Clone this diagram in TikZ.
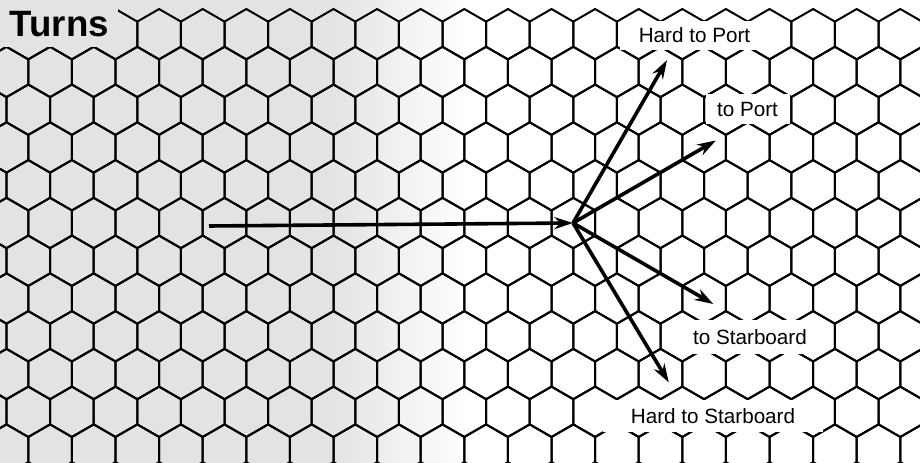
\documentclass[tikz,border=0pt]{standalone}
\usepackage{fontspec}
\setmainfont{Liberation Sans}
\usetikzlibrary{arrows.meta}
\tikzset{
  hexline/.style={line width=1.5pt,line join=round},
  turnarrow/.style={line width=2.7pt,-{Stealth[length=14pt,width=9pt]}},
  turnlabel/.style={fill=white,inner sep=0pt,font=\fontsize{15.5}{18}\selectfont}
}

\begin{document}
\begin{tikzpicture}[x=.75pt,y=.75pt]
\useasboundingbox (0,0) rectangle (920,463);
% shaded half of the map
\fill[black!11] (0,0) rectangle (330,463);
\shade[left color=black!11,right color=white] (330,0) rectangle (470,463);
% hex grid
\begin{scope}
\clip (0,0) rectangle (920,463);
\foreach \r in {0,...,11}{
  \foreach \k in {-1,...,21}{
    \pgfmathsetmacro\hx{28.3+43.6*\k+21.8*mod(\r,2)}
    \pgfmathsetmacro\hy{428.8-37.76*\r}
    \draw[hexline] (\hx,\hy) +(30:25.17) -- +(90:25.17) -- +(150:25.17) -- +(210:25.17) -- +(270:25.17) -- +(330:25.17) -- cycle;
  }
}
\end{scope}
\node[anchor=north west,fill=black!11,minimum width=88.5pt,minimum height=35pt,inner sep=0pt,font=\fontsize{27.5}{30}\selectfont\bfseries] (title) at (0,463) {Turns};
% turn arrows
\coordinate (turn) at (573,240);
\coordinate (start) at (209,237);
\coordinate (hardport) at ([shift={(60:188)}]turn);
\coordinate (port) at ([shift={(30:165)}]turn);
\coordinate (star) at ([shift={(-30:162)}]turn);
\coordinate (hardstar) at ([shift={(-59:186)}]turn);
\draw[turnarrow] (start) -- (turn);
\draw[turnarrow] (turn) -- (hardport);
\draw[turnarrow] (turn) -- (port);
\draw[turnarrow] (turn) -- (star);
\draw[turnarrow] (turn) -- (hardstar);
% labels
\node[turnlabel,minimum width=112pt,minimum height=22pt] (hardportlbl) at (694.5,427.5) {Hard to Port};
\node[turnlabel,minimum width=63pt,minimum height=22pt] (portlbl) at (747.5,354) {to Port};
\node[turnlabel,minimum width=109pt,minimum height=25pt] (starlbl) at (750,126) {to Starboard};
\node[turnlabel,minimum width=165pt,minimum height=24pt] (hardstarlbl) at (713,46.5) {Hard to Starboard};
\end{tikzpicture}
\end{document}
